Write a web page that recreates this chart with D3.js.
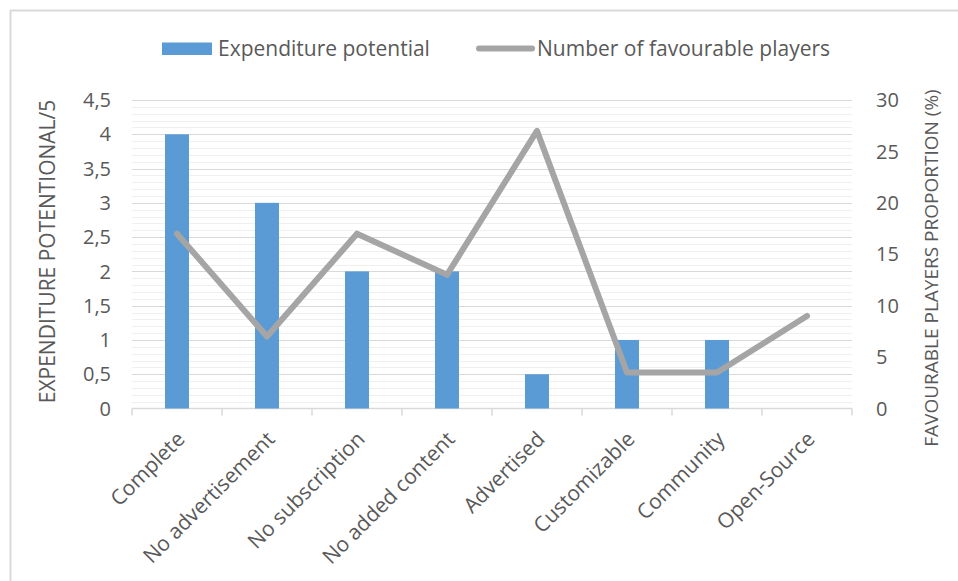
<!DOCTYPE html>
<html>
<head>
<meta charset="utf-8">
<script src="https://cdn.jsdelivr.net/npm/d3@7"></script>
<style>
  html, body { margin: 0; padding: 0; background: #fff; }
  svg { display: block; font-family: "Open Sans", sans-serif; }
</style>
</head>
<body>
<svg id="chart" width="958" height="581"></svg>
<script>
const categories = ["Complete", "No advertisement", "No subscription", "No added content", "Advertised", "Customizable", "Community", "Open-Source"];
const expenditure = [4, 3, 2, 2, 0.5, 1, 1, 0];
const favourable = [17, 7, 17, 13, 27, 3.5, 3.5, 9];
const leftTicks = [0, 0.5, 1, 1.5, 2, 2.5, 3, 3.5, 4, 4.5];
const rightTicks = [0, 5, 10, 15, 20, 25, 30];
const seriesNames = ["Expenditure potential", "Number of favourable players"];
const leftTitle = "EXPENDITURE POTENTIONAL/5";
const rightTitle = "FAVOURABLE PLAYERS PROPORTION (%)";

const svg = d3.select("#chart");
const plot = { left: 132, right: 852, top: 100, bottom: 408.5 };
const textColor = "#595959";

// border (top and left)
svg.append("line").attr("x1", 10).attr("x2", 958).attr("y1", 10.5).attr("y2", 10.5).attr("stroke", "#d9d9d9").attr("stroke-width", 2);
svg.append("line").attr("x1", 10.5).attr("x2", 10.5).attr("y1", 10).attr("y2", 581).attr("stroke", "#d9d9d9").attr("stroke-width", 2);

const x = d3.scaleBand().domain(categories).range([plot.left, plot.right]).paddingInner(0).paddingOuter(0);
const yL = d3.scaleLinear().domain([0, 4.5]).range([plot.bottom, plot.top]);
const yR = d3.scaleLinear().domain([0, 30]).range([plot.bottom, plot.top]);

// minor gridlines
const minor = d3.range(0, 4.5001, 0.1).filter(v => Math.abs(v * 2 - Math.round(v * 2)) > 1e-6);
svg.append("g").selectAll("line").data(minor).join("line")
  .attr("x1", plot.left).attr("x2", plot.right)
  .attr("y1", d => Math.round(yL(d)) + 0.5).attr("y2", d => Math.round(yL(d)) + 0.5)
  .attr("stroke", "#f0f0f0").attr("stroke-width", 1);
// major gridlines
svg.append("g").selectAll("line").data(leftTicks.slice(1)).join("line")
  .attr("x1", plot.left).attr("x2", plot.right)
  .attr("y1", d => Math.round(yL(d)) + 0.5).attr("y2", d => Math.round(yL(d)) + 0.5)
  .attr("stroke", "#d9d9d9").attr("stroke-width", 1);

// x axis line and ticks
svg.append("line").attr("x1", plot.left).attr("x2", plot.right).attr("y1", plot.bottom).attr("y2", plot.bottom)
  .attr("stroke", "#d9d9d9").attr("stroke-width", 1.5);
const boundaries = categories.map(c => x(c)).concat([plot.right]);
svg.append("g").selectAll("line").data(boundaries).join("line")
  .attr("x1", d => d).attr("x2", d => d).attr("y1", plot.bottom).attr("y2", plot.bottom + 7)
  .attr("stroke", "#d9d9d9").attr("stroke-width", 1.5);

// bars
const barW = 24;
svg.append("g").selectAll("rect").data(categories.map((c, i) => ({ c, v: expenditure[i] })).filter(d => d.v > 0)).join("rect")
  .attr("x", d => x(d.c) + x.bandwidth() / 2 - barW / 2)
  .attr("y", d => yL(d.v))
  .attr("width", barW)
  .attr("height", d => yL(0) - yL(d.v))
  .attr("fill", "#5b9bd5");

// line
const line = d3.line().x((d, i) => x(categories[i]) + x.bandwidth() / 2).y(d => yR(d));
svg.append("path").datum(favourable).attr("d", line)
  .attr("fill", "none").attr("stroke", "#a5a5a5").attr("stroke-width", 6)
  .attr("stroke-linejoin", "round").attr("stroke-linecap", "round");

// left tick labels
svg.append("g").selectAll("text").data(leftTicks).join("text")
  .attr("x", 111).attr("y", d => yL(d)).attr("dy", "0.36em")
  .attr("text-anchor", "end").attr("font-size", 20).attr("fill", textColor)
  .text(d => String(d).replace(".", ","));
// right tick labels
svg.append("g").selectAll("text").data(rightTicks).join("text")
  .attr("x", 876).attr("y", d => yR(d)).attr("dy", "0.36em")
  .attr("text-anchor", "start").attr("font-size", 20).attr("fill", textColor)
  .text(d => d);

// x labels
svg.append("g").selectAll("text").data(categories).join("text")
  .attr("transform", d => `translate(${x(d) + x.bandwidth() / 2 + 9},${plot.bottom + 32}) rotate(-45)`)
  .attr("text-anchor", "end").attr("font-size", 21).attr("fill", textColor)
  .text(d => d);

// axis titles
svg.append("text").attr("transform", `translate(55,${(95 + 408) / 2}) rotate(-90)`)
  .attr("text-anchor", "middle").attr("font-size", 21).attr("fill", textColor).text(leftTitle);
svg.append("text").attr("transform", `translate(938,268) rotate(-90)`)
  .attr("text-anchor", "middle").attr("font-size", 19).attr("fill", textColor).text(rightTitle);

// legend
svg.append("rect").attr("x", 162).attr("y", 42.5).attr("width", 50).attr("height", 12.5).attr("fill", "#5b9bd5");
svg.append("text").attr("x", 218).attr("y", 56).attr("font-size", 21).attr("fill", textColor).text(seriesNames[0]);
svg.append("line").attr("x1", 479).attr("x2", 532).attr("y1", 48.5).attr("y2", 48.5)
  .attr("stroke", "#a5a5a5").attr("stroke-width", 6).attr("stroke-linecap", "round");
svg.append("text").attr("x", 537).attr("y", 56).attr("font-size", 21).attr("fill", textColor).text(seriesNames[1]);
</script>
</body>
</html>
